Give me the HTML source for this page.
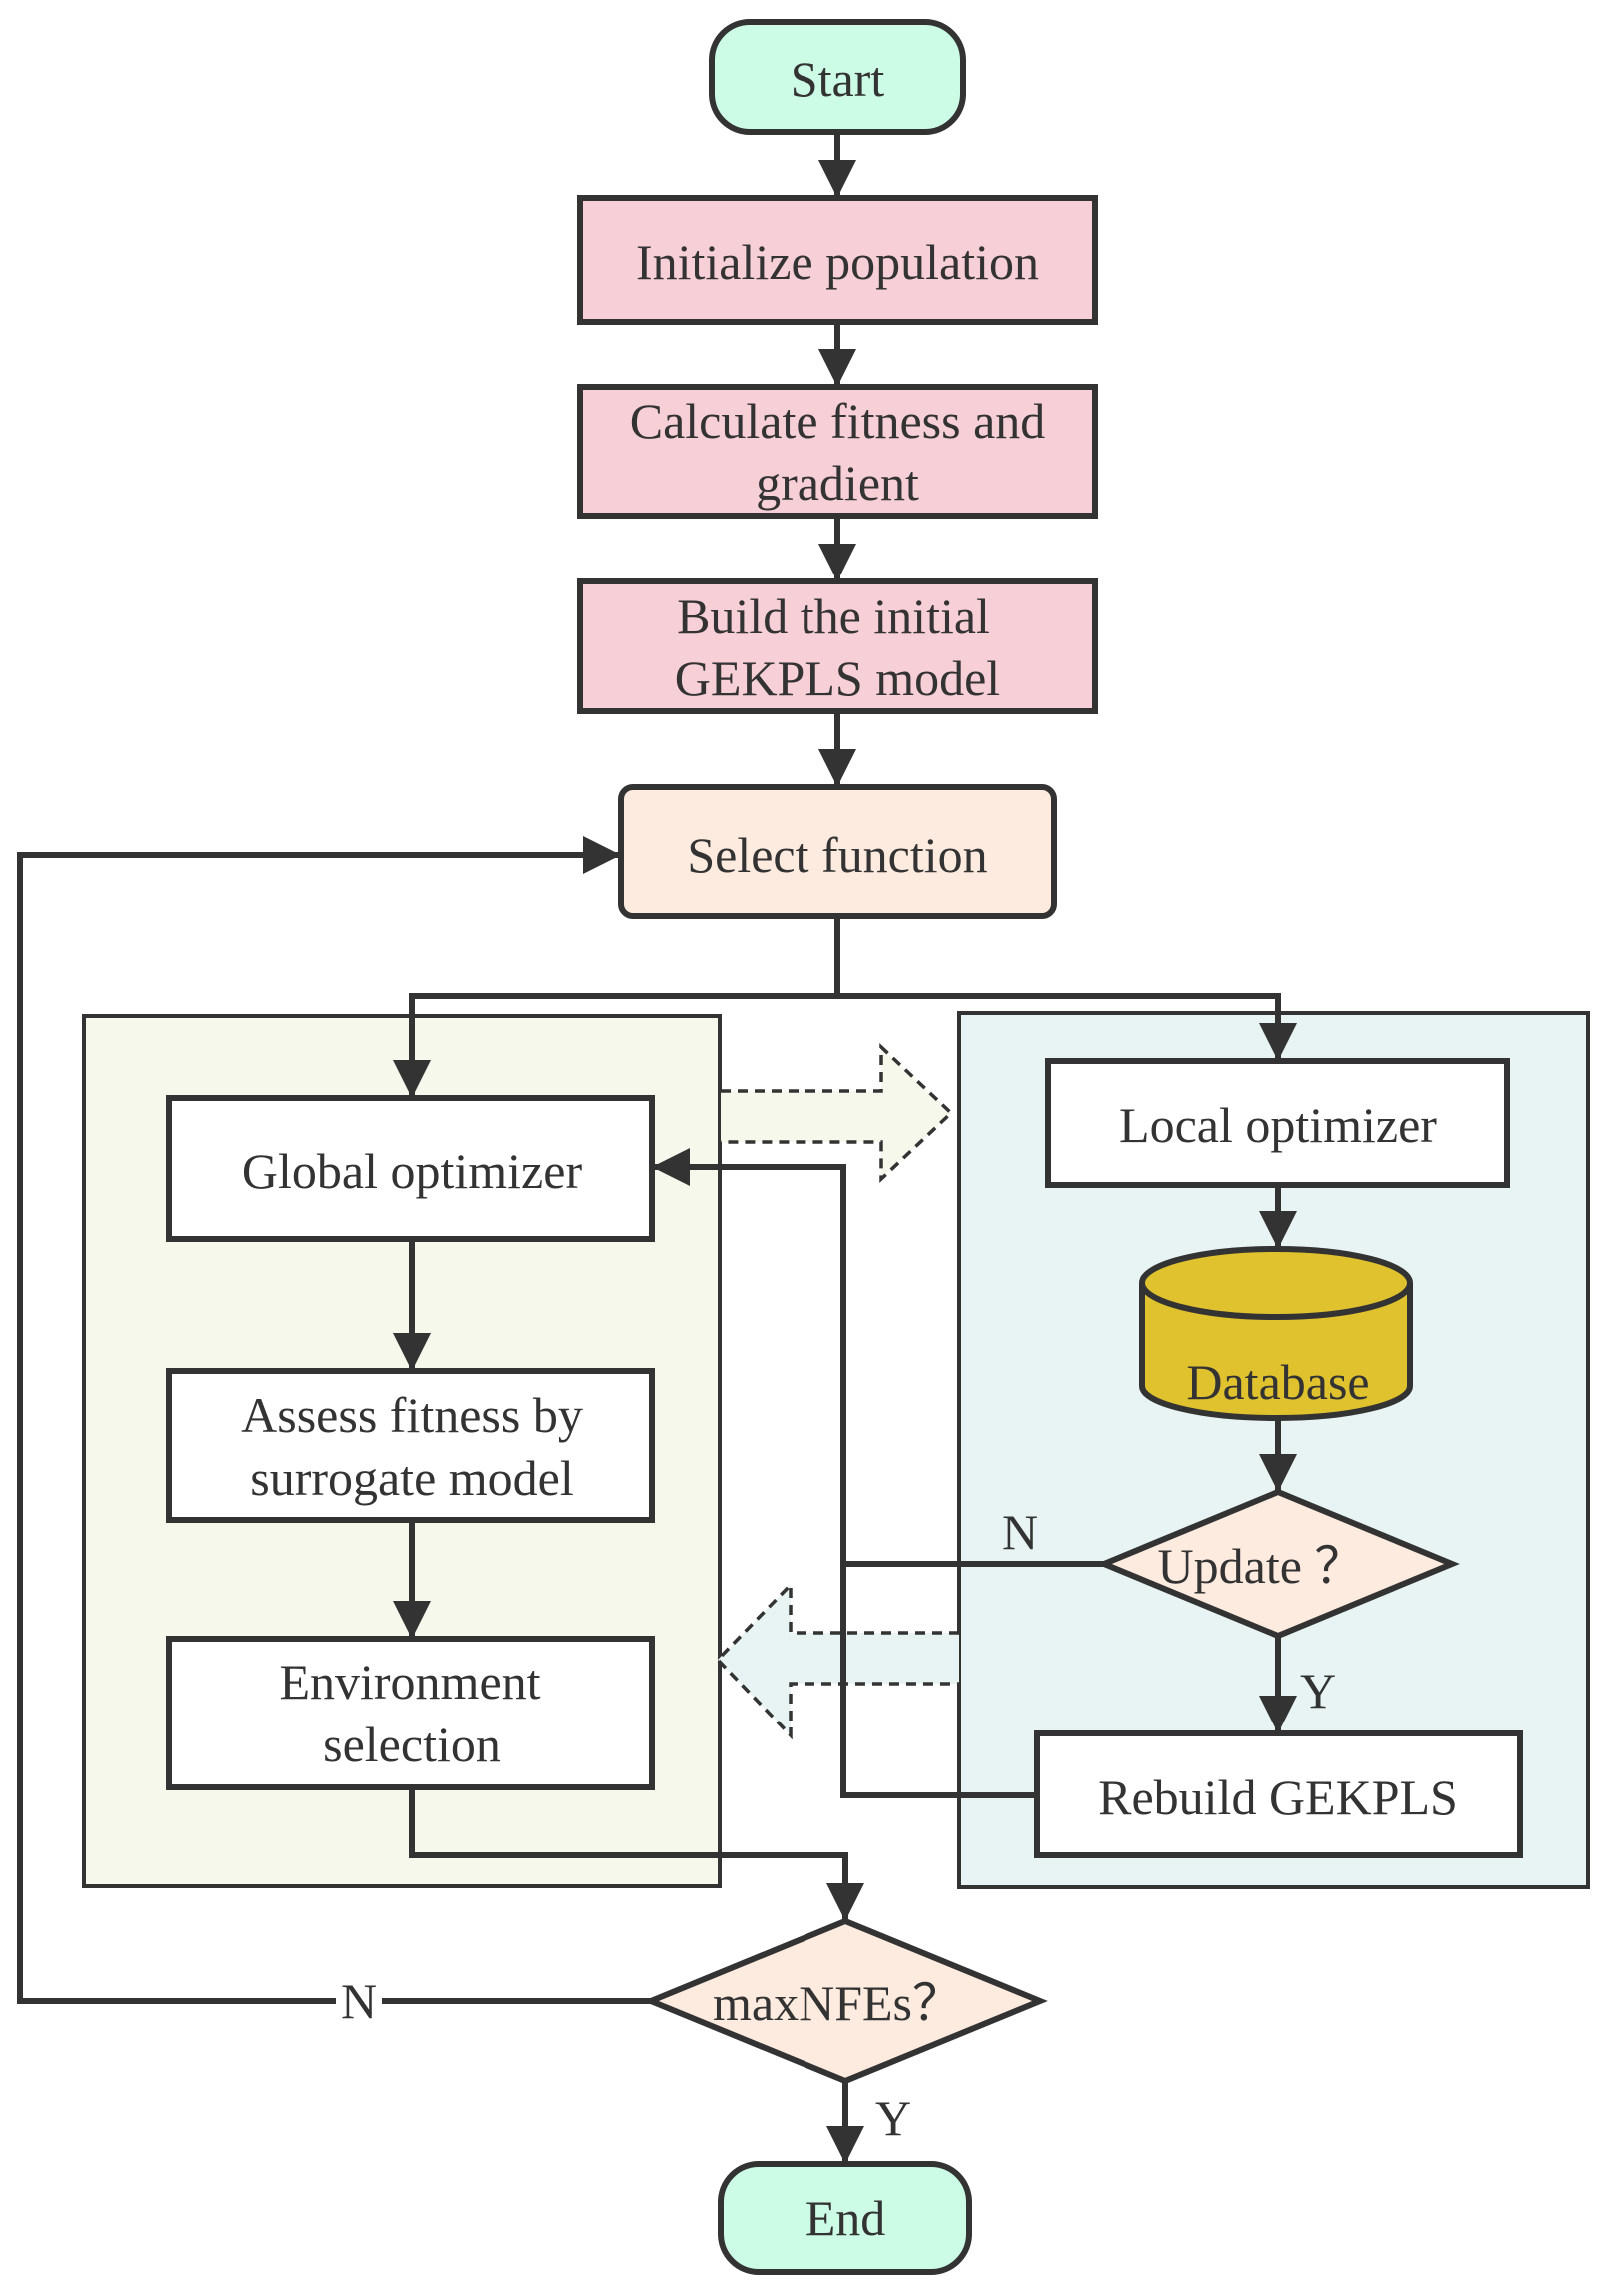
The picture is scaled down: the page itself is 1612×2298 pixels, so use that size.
<!DOCTYPE html>
<html><head><meta charset="utf-8"><style>html,body{margin:0;padding:0;background:#fff}svg{display:block}text{font-family:"Liberation Serif",serif;font-size:50px;fill:#333;text-anchor:middle;dominant-baseline:central}</style></head>
<body>
<svg width="1612" height="2298" viewBox="0 0 1612 2298" xmlns="http://www.w3.org/2000/svg">
<defs>
<marker id="ah" viewBox="0 0 10 10" refX="10" refY="5" markerWidth="38" markerHeight="38" markerUnits="userSpaceOnUse" orient="auto"><path d="M0,0 L10,5 L0,10 Z" fill="#333"/></marker></defs>
<g stroke="#333" stroke-width="6" fill="none">
<rect x="84" y="1017" width="636" height="871" fill="#f6f8ec" stroke-width="4"/>
<rect x="960" y="1014" width="629" height="875" fill="#e7f4f3" stroke-width="4"/>
<path d="M721,1092 H882 V1048 L952,1114 L882,1180 V1143 H721" fill="#f6f8ec" stroke-width="3.5" stroke-dasharray="10,7"/>
<path d="M960,1634 H791 V1586 L718,1661 L791,1737 V1685 H960" fill="#e7f4f3" stroke-width="3.5" stroke-dasharray="10,7"/>
<rect x="712" y="22" width="252" height="110" rx="38" fill="#ccfbe6"/>
<rect x="580" y="198" width="516" height="124" fill="#f7cfd7"/>
<rect x="580" y="387" width="516" height="129" fill="#f7cfd7"/>
<rect x="580" y="582" width="516" height="130" fill="#f7cfd7"/>
<rect x="621" y="788" width="434" height="129" rx="12" fill="#fdebe0"/>
<rect x="169" y="1099" width="483" height="141" fill="#fff"/>
<rect x="169" y="1372" width="483" height="149" fill="#fff"/>
<rect x="169" y="1640" width="483" height="149" fill="#fff"/>
<rect x="1049" y="1062" width="459" height="124" fill="#fff"/>
<path d="M1143,1284 V1387 A134,32 0 0 0 1411,1387 V1284" fill="#dfc22e"/>
<ellipse cx="1277" cy="1284" rx="134" ry="34" fill="#dfc22e"/>
<path d="M1105,1565 L1279,1493 L1453,1565 L1279,1637 Z" fill="#fdebe0"/>
<rect x="1038" y="1735" width="483" height="122" fill="#fff"/>
<path d="M651,2003 L846,1923 L1041,2003 L846,2083 Z" fill="#fdebe0"/>
<rect x="721" y="2166" width="249" height="108" rx="38" fill="#ccfbe6"/>
<path d="M838,132 V198" marker-end="url(#ah)"/>
<path d="M838,322 V387" marker-end="url(#ah)"/>
<path d="M838,516 V582" marker-end="url(#ah)"/>
<path d="M838,712 V788" marker-end="url(#ah)"/>
<path d="M838,917 V997 H412 V1099" marker-end="url(#ah)"/>
<path d="M838,997 H1279 V1062" marker-end="url(#ah)"/>
<path d="M412,1240 V1372" marker-end="url(#ah)"/>
<path d="M412,1521 V1640" marker-end="url(#ah)"/>
<path d="M1279,1186 V1250" marker-end="url(#ah)"/>
<path d="M1279,1421 V1493" marker-end="url(#ah)"/>
<path d="M1279,1637 V1735" marker-end="url(#ah)"/>
<path d="M1105,1565 H844"/>
<path d="M1038,1797 H844 V1168 H652" marker-end="url(#ah)"/>
<path d="M412,1789 V1857 H846 V1923" marker-end="url(#ah)"/>
<path d="M846,2083 V2166" marker-end="url(#ah)"/>
<path d="M651,2003 H20 V856 H621" marker-end="url(#ah)"/>
</g>
<rect x="336" y="1980" width="46" height="46" fill="#fff"/>
<text x="838" y="79">Start</text>
<text x="838" y="262">Initialize population</text>
<text x="838" y="421">Calculate fitness and</text>
<text x="838" y="483">gradient</text>
<text x="834" y="617">Build the initial</text>
<text x="838" y="679">GEKPLS model</text>
<text x="838" y="856">Select function</text>
<text x="412" y="1172">Global optimizer</text>
<text x="412" y="1416">Assess fitness by</text>
<text x="412" y="1479">surrogate model</text>
<text x="410" y="1683">Environment</text>
<text x="412" y="1746">selection</text>
<text x="1279" y="1126">Local optimizer</text>
<text x="1279" y="1383">Database</text>
<text x="1262" y="1567">Update ？</text>
<text x="1279" y="1799">Rebuild GEKPLS</text>
<text x="838" y="2005">maxNFEs？</text>
<text x="846" y="2220">End</text>
<text x="359" y="2003">N</text>
<text x="894" y="2120">Y</text>
<text x="1319" y="1692">Y</text>
<text x="1021" y="1533">N</text>
</svg>
</body></html>
